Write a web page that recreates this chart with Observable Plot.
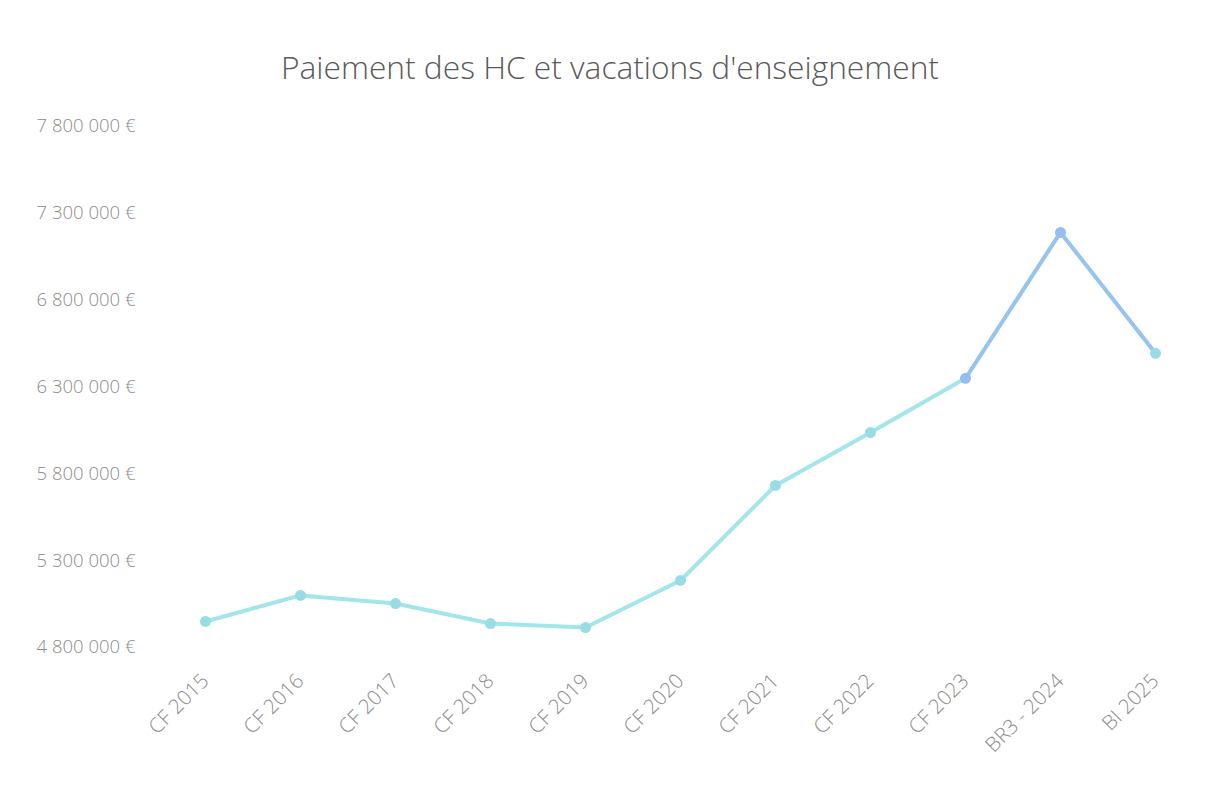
<!DOCTYPE html>
<html><head><meta charset="utf-8">
<script src="https://cdn.jsdelivr.net/npm/d3@7"></script>
<script src="https://cdn.jsdelivr.net/npm/@observablehq/plot@0.6"></script>
<style>
body{margin:0;background:#fff;font-family:"Open Sans",sans-serif;}
#title{height:110px;box-sizing:border-box;padding-top:47px;text-align:center;font-size:31.7px;line-height:40px;color:#595959;font-weight:300;}
#chart svg{display:block}
</style></head><body>
<div id="title">Paiement des HC et vacations d'enseignement</div>
<div id="chart"></div>
<script>
const categories = ["CF 2015","CF 2016","CF 2017","CF 2018","CF 2019","CF 2020","CF 2021","CF 2022","CF 2023","BR3 - 2024","BI 2025"];
const values = [4950000,5100000,5053000,4938000,4915000,5186000,5733000,6038000,6350000,7190000,6494000];
const yTicks = [4800000,5300000,5800000,6300000,6800000,7300000,7800000];

const data = categories.map((c,i)=>({cat:c, v:values[i], i}));
const segs = data.slice(1).map((d,k)=>({x1:data[k].cat,y1:data[k].v,x2:d.cat,y2:d.v,blue:k>=8}));
const fmt = v => d3.format(",")(v).replace(/,/g," ") + " €";

const chart = Plot.plot({
  width:1220, height:680,
  marginLeft:157, marginRight:18, marginTop:16, marginBottom:143,
  style:{fontFamily:"Open Sans, sans-serif", fontSize:"18px", color:"#8c8c8c", background:"#fff"},
  x:{type:"point", domain:categories, padding:0.5, label:null},
  y:{domain:[4800000,7800000], label:null},
  marks:[
    Plot.axisX({tickRotate:-45, tickSize:0, tickPadding:30, fontSize:20.5, fill:"#8c8c8c", fontWeight:300}),
    Plot.axisY({ticks:yTicks, tickFormat:fmt, tickSize:0, tickPadding:22, fontSize:18.5, fill:"#8c8c8c", fontWeight:300}),
    Plot.link(segs,{x1:"x1",y1:"y1",x2:"x2",y2:"y2",stroke:d=>d.blue?"#97c3ef":"#a2e5ea",strokeWidth:4,strokeLinecap:"round"}),
    Plot.dot(data,{x:"cat",y:"v",r:5.5,fill:d=>d.i>=8&&d.i<=9?"#95bdf0":"#98dde6",stroke:"none"})
  ]
});
document.getElementById("chart").appendChild(chart);
</script>
</body></html>
